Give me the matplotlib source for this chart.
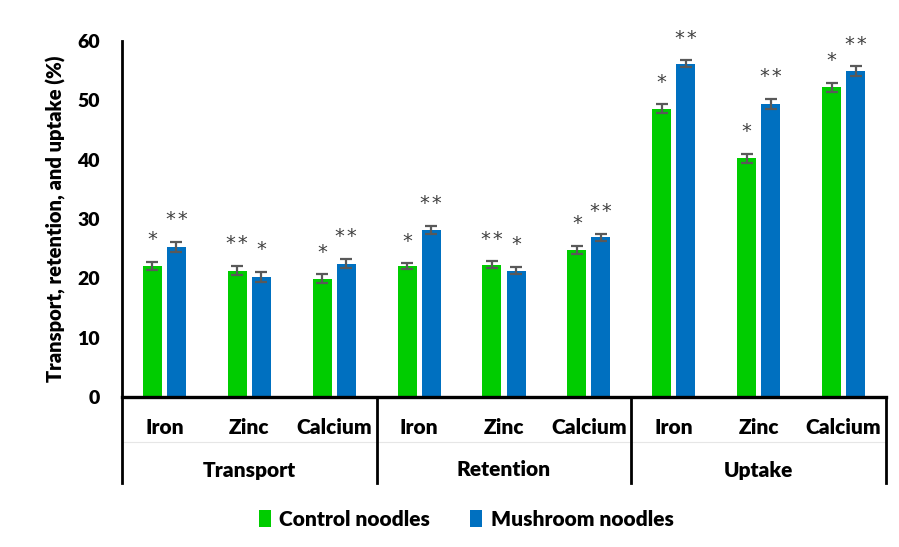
import matplotlib
matplotlib.use("Agg")
import matplotlib.pyplot as plt
from matplotlib.patches import Patch
from matplotlib.lines import Line2D
import numpy as np

plt.rcParams['font.family'] = ['Lato', 'DejaVu Sans']
plt.rcParams['font.weight'] = 'heavy'

groups = ["Transport", "Retention", "Uptake"]
minerals = ["Iron", "Zinc", "Calcium"]

control = [22.1, 21.3, 19.9, 22.1, 22.3, 24.8, 48.6, 40.2, 52.2]
mushroom = [25.3, 20.2, 22.5, 28.2, 21.3, 26.9, 56.2, 49.4, 54.9]
control_err = [0.65, 0.8, 0.75, 0.45, 0.55, 0.65, 0.7, 0.8, 0.8]
mushroom_err = [0.85, 0.9, 0.8, 0.7, 0.6, 0.55, 0.55, 0.8, 0.85]
control_sig = ["*", "**", "*", "*", "**", "*", "*", "*", "*"]
mushroom_sig = ["**", "*", "**", "**", "*", "**", "**", "**", "**"]

green = "#00CC00"
blue = "#0070C0"
err_color = "#595959"
W = "heavy"

fig = plt.figure(figsize=(8.99, 5.47), dpi=100)
ax = fig.add_axes([122 / 899, 1 - 397 / 547, 764 / 899, 356 / 547])

n = len(control)
x = np.arange(n) + 0.5
w = 0.225
off = 0.142

ek = dict(ecolor=err_color, elinewidth=1.6, capsize=4, capthick=1.6)
ax.bar(x - off, control, w, color=green, yerr=control_err, error_kw=ek, zorder=2)
ax.bar(x + off, mushroom, w, color=blue, yerr=mushroom_err, error_kw=ek, zorder=2)

star_kw = dict(textcoords="offset points", ha="center", va="baseline",
               fontsize=14, color="#404040", fontweight="normal",
               family="DejaVu Sans")


def stars(s):
    return "\u200a".join(s)


for xi, v, e, s in zip(x - off, control, control_err, control_sig):
    ax.annotate(stars(s), (xi, v + e), xytext=(0, 12), **star_kw)
for xi, v, e, s in zip(x + off, mushroom, mushroom_err, mushroom_sig):
    ax.annotate(stars(s), (xi, v + e), xytext=(0, 12), **star_kw)

ax.set_xlim(0, n)
ax.set_ylim(0, 60)
ax.set_yticks(range(0, 61, 10))
ax.tick_params(axis="y", length=0, pad=16, labelsize=14)
for lab in ax.get_yticklabels():
    lab.set_fontweight(W)
ax.tick_params(axis="x", length=0, labelbottom=False)
for sp in ["top", "right"]:
    ax.spines[sp].set_visible(False)
ax.spines["left"].set_linewidth(2.0)
ax.spines["bottom"].set_linewidth(2.4)
ax.spines["left"].set_zorder(3)
ax.spines["bottom"].set_zorder(3)

ax.set_ylabel("Transport, retention, and uptake (%)", fontsize=14.5,
              fontweight=W, labelpad=8)

# two-level category axis beneath the plot
trans = ax.get_xaxis_transform()
h = 356.0
for i, xi in enumerate(x):
    ax.text(xi, -30 / h, minerals[i % 3], transform=trans, ha="center",
            va="center", fontsize=15, fontweight=W)
for g, name in enumerate(groups):
    ax.text(3 * g + 1.5, -73 / h, name, transform=trans, ha="center",
            va="center", fontsize=15, fontweight=W)
for xb in [0, 3, 6, 9]:
    ax.add_line(Line2D([xb, xb], [0, -86 / h], transform=trans, color="black",
                       lw=2.0, clip_on=False))
ax.add_line(Line2D([0, n], [-45 / h, -45 / h], transform=trans,
                   color="#e6e6e6", lw=0.8, clip_on=False, zorder=0))

handles = [Patch(facecolor=green, label="Control noodles"),
           Patch(facecolor=blue, label="Mushroom noodles")]
fig.legend(handles=handles, loc="center", bbox_to_anchor=(466 / 899, 1 - 519 / 547),
           ncol=2, frameon=False, handlelength=0.6, handleheight=0.9,
           handletextpad=0.4, columnspacing=1.9, prop=dict(weight=W, size=15))

fig.savefig("out.png", dpi=100)
